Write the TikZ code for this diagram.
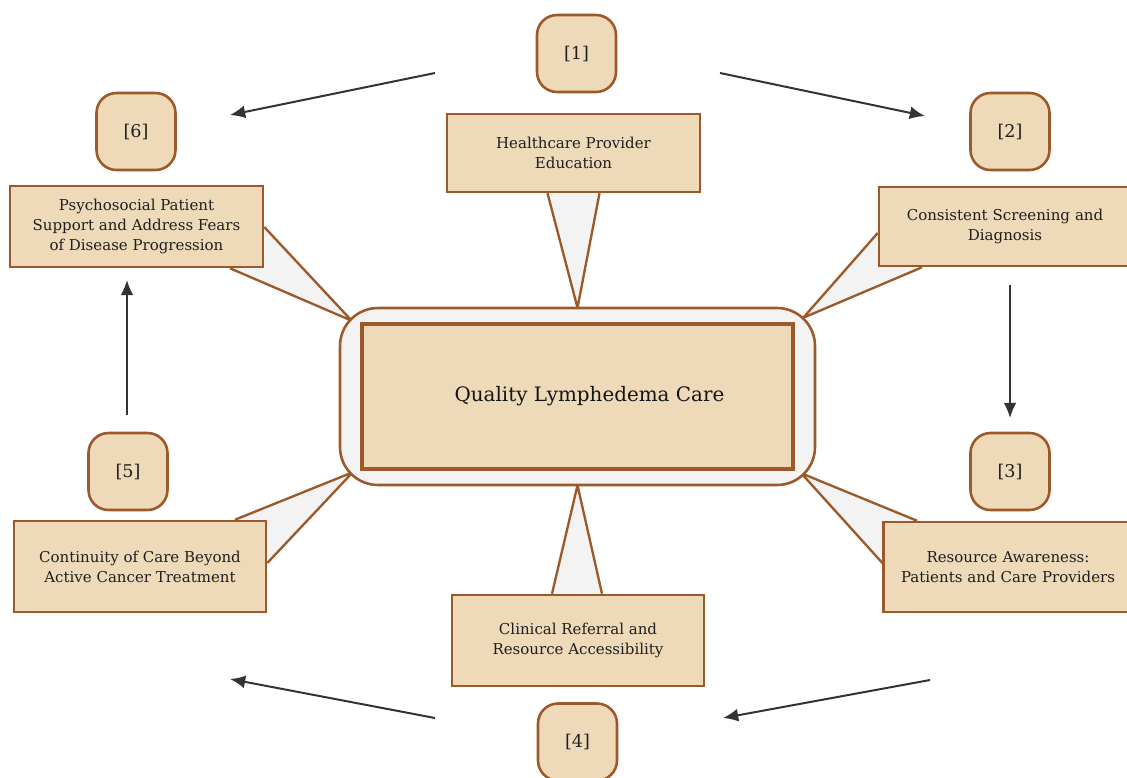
\documentclass[tikz,border=0pt]{standalone}
\usepackage{fontspec}
\setmainfont{DejaVu Serif}
\usetikzlibrary{calc,arrows.meta}
\definecolor{tan}{HTML}{EED9B8}
\definecolor{brn}{HTML}{9C5A2A}
\definecolor{lgray}{HTML}{F3F3F3}
\definecolor{arr}{HTML}{333333}
\pgfdeclarelayer{bg}
\pgfsetlayers{bg,main}
\tikzset{
  textbox/.style={draw=brn, fill=tan, line width=2.2pt, align=center, inner sep=2pt,
    font=\fontsize{12.8}{17}\selectfont, text=black!88},
  badge/.style={draw=brn, fill=tan, line width=2.2pt, rounded corners={20*0.03cm},
    minimum width={79*0.03cm}, minimum height={77*0.03cm}, font=\fontsize{15}{17}\selectfont, text=black!88},
  wedge/.style={draw=brn, fill=lgray, line width=2pt, line join=round},
  flow/.style={draw=arr, line width=1.7pt, -{Latex[length=13pt,width=11pt]}}
}
\begin{document}
\begin{tikzpicture}[x=0.03cm,y=-0.03cm]
\clip (0,0) rectangle (1127,777);
% hub
\draw[brn, fill=lgray, line width=2.2pt, rounded corners={38*0.03cm}] (340,308) rectangle (815,485);
\path (577.5,396.5) node[minimum width={475*0.03cm}, minimum height={177*0.03cm}, inner sep=0pt] (hub) {};
\node[draw=brn, fill=tan, line width=3pt, minimum width={431*0.03cm}, minimum height={145*0.03cm},
  font=\fontsize{17}{20}\selectfont, text=black!92] (core) at (577.5,396.5) {\hspace{1.2em}Quality Lymphedema Care};
% text boxes
\node[textbox, minimum width={253*0.03cm}, minimum height={78*0.03cm}] (t1) at (573.5,153) {Healthcare Provider\\Education};
\node[textbox, minimum width={253*0.03cm}, minimum height={81*0.03cm}] (t6) at (136.5,226.5) {Psychosocial Patient\\Support and Address Fears\\of Disease Progression};
\node[textbox, minimum width={252*0.03cm}, minimum height={79*0.03cm}, text width={244*0.03cm}] (t2) at (1005,226.5) {Consistent Screening and\\Diagnosis};
\node[textbox, minimum width={248*0.03cm}, minimum height={90*0.03cm}, text width={244*0.03cm}] (t3) at (1008,567) {Resource Awareness:\\Patients and Care Providers};
\node[textbox, minimum width={252*0.03cm}, minimum height={91*0.03cm}] (t4) at (578,640.5) {Clinical Referral and\\Resource Accessibility};
\node[textbox, minimum width={252*0.03cm}, minimum height={91*0.03cm}] (t5) at (140,566.5) {Continuity of Care Beyond\\Active Cancer Treatment};
% wedges (behind)
\begin{pgfonlayer}{bg}
\fill[white] (0,0) rectangle (1127,777);
\draw[wedge] ($(t1.south)+(-26,0)$) -- (hub.north) -- ($(t1.south)+(26,0)$);
\draw[wedge] ($(t4.north)+(-26,0)$) -- (hub.south) -- ($(t4.north)+(24,0)$);
\draw[wedge] ($(t6.east)+(0,0.5)$) -- ($(hub.north west)+(12,13)$) -- ($(t6.south)+(93.5,0)$);
\draw[wedge] ($(t2.west)+(0,6.5)$) -- ($(hub.north east)+(-12,10)$) -- ($(t2.south)+(-83,0)$);
\draw[wedge] ($(t3.north)+(-91,0)$) -- ($(hub.south east)+(-14,-12)$) -- ($(t3.west)+(0,-4)$);
\draw[wedge] ($(t5.north)+(95,0)$) -- ($(hub.south west)+(13,-13)$) -- ($(t5.east)+(0,-3.5)$);
\end{pgfonlayer}
% badges
\node[badge] (b1) at (576.5,53.5) {[1]};
\node[badge] (b2) at (1010,131.5) {[2]};
\node[badge] (b3) at (1010,471.5) {[3]};
\node[badge] (b4) at (577.5,742) {[4]};
\node[badge] (b5) at (128,471.5) {[5]};
\node[badge] (b6) at (136,131.5) {[6]};
% arrows
\coordinate (p1s) at (435,73);   \coordinate (p1e) at (230,115);
\coordinate (p2s) at (720,73);   \coordinate (p2e) at (925,116);
\coordinate (p3s) at (1010,285); \coordinate (p3e) at (1010,418);
\coordinate (p4s) at (930,680);  \coordinate (p4e) at (723,718);
\coordinate (p5s) at (435,718);  \coordinate (p5e) at (230,679);
\coordinate (p6s) at (127,415);  \coordinate (p6e) at (127,280);
\draw[flow] (p1s) -- (p1e);
\draw[flow] (p2s) -- (p2e);
\draw[flow] (p3s) -- (p3e);
\draw[flow] (p4s) -- (p4e);
\draw[flow] (p5s) -- (p5e);
\draw[flow] (p6s) -- (p6e);
\end{tikzpicture}
\end{document}
